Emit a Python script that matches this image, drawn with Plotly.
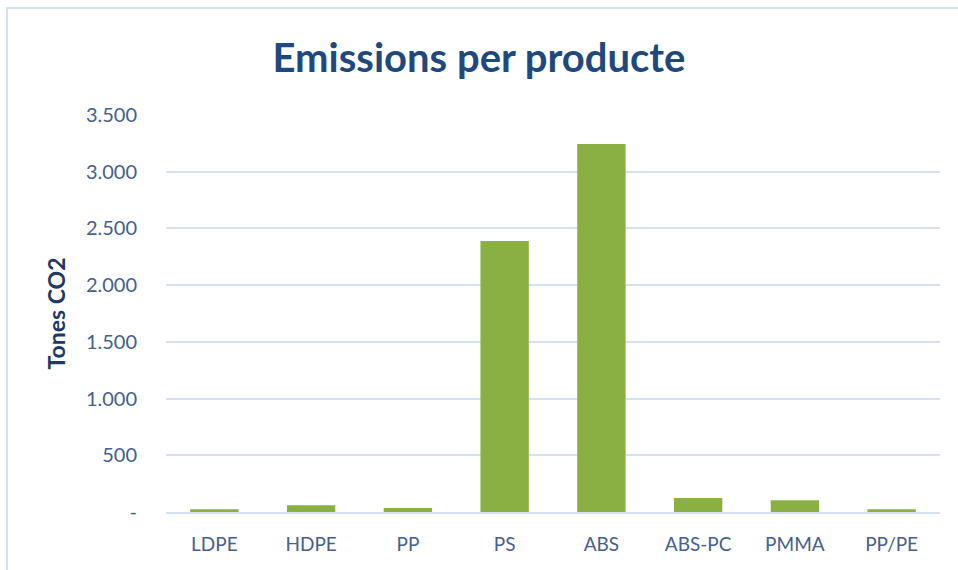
import plotly.graph_objects as go

categories = ["LDPE", "HDPE", "PP", "PS", "ABS", "ABS-PC", "PMMA", "PP/PE"]
emissions = [24, 59, 35, 2390, 3245, 123, 103, 24]
tick_values = [0, 500, 1000, 1500, 2000, 2500, 3000, 3500]
tick_labels = ["-", "500", "1.000", "1.500", "2.000", "2.500", "3.000", "3.500"]

W, H = 958, 570
L, R, T, B = 166, 18, 115, 58
pw, ph = W - L - R, H - T - B

fig = go.Figure()
fig.add_trace(go.Bar(
    x=categories, y=emissions,
    marker=dict(color="#8AB043", line=dict(width=0)),
    width=0.5,
))

bx = (7 - L) / pw
by = 1 + (T - 8) / ph
fig.add_shape(type="rect", xref="paper", yref="paper",
              x0=bx, x1=1.2, y0=-0.5, y1=by,
              line=dict(color="#D5E1F2", width=2), layer="below")

fig.update_layout(
    width=W, height=H,
    margin=dict(l=L, r=R, t=T, b=B, autoexpand=False),
    paper_bgcolor="white", plot_bgcolor="white",
    showlegend=False,
    title=dict(text="<b>Emissions per producte</b>", x=0.5, xref="container",
               y=1 - 58 / H, yanchor="middle",
               font=dict(family="Lato", size=40, color="#1F497D")),
    font=dict(family="Lato", color="#44608F"),
    bargap=0.5,
)
fig.update_xaxes(showgrid=False, showline=True, linecolor="#D5E1F2", linewidth=2,
                 tickfont=dict(size=19, color="#44608F"), ticks="", ticklabelstandoff=14)
fig.update_yaxes(range=[0, 3500], tickvals=tick_values, ticktext=tick_labels,
                 showgrid=True, gridcolor="#D5E1F2", gridwidth=2, zeroline=False,
                 showline=False, ticks="", ticklabelstandoff=28,
                 tickfont=dict(size=20, color="#44608F"),
                 title=dict(text="<b>Tones CO2</b>", standoff=13,
                            font=dict(size=23, color="#1F3864")))

fig.write_html("out.html")
